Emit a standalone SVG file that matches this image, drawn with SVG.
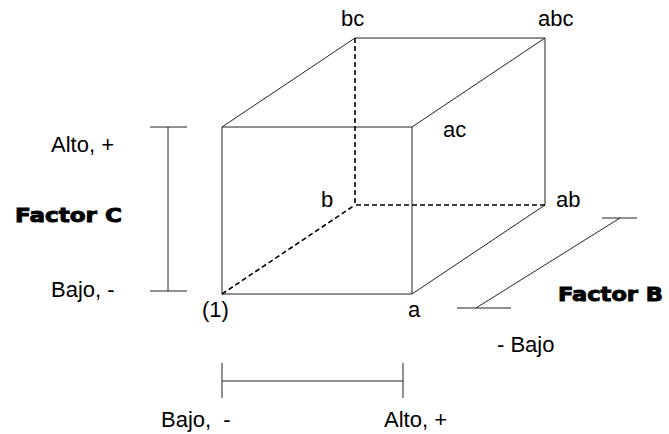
<svg xmlns="http://www.w3.org/2000/svg" width="669" height="434" viewBox="0 0 669 434">
<style>
.e{stroke:#222;stroke-width:1;fill:none}
.d{stroke:#000;stroke-width:1.6;fill:none;stroke-dasharray:5,3}
.t{font-family:"Liberation Sans",Arial,sans-serif;font-size:22px;fill:#000}
.b{font-family:"DejaVu Sans",sans-serif;font-weight:bold;font-size:19px;fill:#000;stroke:#000;stroke-width:0.9}
</style>
<rect width="669" height="434" fill="#fff"/>
<g id="connectors">
<path class="e" d="M222,127H412V294H222Z"/>
<path class="e" d="M355,38H545V205"/>
<path class="e" d="M222,127L355,38M412,127L545,38M412,294L545,205"/>
<path class="d" d="M355,38V205H545M222,294L355,205"/>
<path class="e" d="M168,127V291M150,127H187M150,291H187"/>
<path class="e" d="M602,218H637M620,218L476,308M457,308H511"/>
<path class="e" d="M222,363V398M403,363V398M222,381H403"/>
</g>
<g id="n1"><text class="t" x="202" y="317">(1)</text></g>
<g id="na"><text class="t" x="408" y="317">a</text></g>
<g id="nb"><text class="t" x="321" y="207">b</text></g>
<g id="nab"><text class="t" x="556" y="207">ab</text></g>
<g id="nac"><text class="t" x="443" y="137">ac</text></g>
<g id="nbc"><text class="t" x="341" y="26">bc</text></g>
<g id="nabc"><text class="t" x="538" y="26">abc</text></g>
<g id="factorC">
<text class="t" x="51" y="152">Alto, +</text>
<text class="b" x="15" y="222" textLength="107" lengthAdjust="spacingAndGlyphs">Factor C</text>
<text class="t" x="51" y="297">Bajo, -</text>
</g>
<g id="factorB">
<text class="b" x="558" y="301" textLength="105" lengthAdjust="spacingAndGlyphs">Factor B</text>
<text class="t" x="497" y="352">- Bajo</text>
</g>
<g id="factorA">
<text class="t" x="161" y="427" xml:space="preserve">Bajo,  -</text>
<text class="t" x="384" y="427">Alto, +</text>
</g>
</svg>
